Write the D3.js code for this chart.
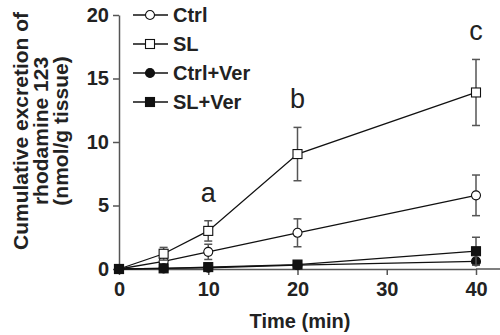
<!DOCTYPE html>
<html>
<head>
<meta charset="utf-8">
<script src="https://cdn.jsdelivr.net/npm/d3@7"></script>
<style>
    body { margin: 0; background: #fff; }
    #chart { width: 500px; height: 335px; }
</style>
</head>
<body>
<div id="chart"></div>
<script>
// Data
const times = [0, 5, 10, 20, 40];
const seriesNames = ["Ctrl", "SL", "Ctrl+Ver", "SL+Ver"];
const ctrlMean = [0, 0.6, 1.35, 2.85, 5.8];
const ctrlErr = [0, 0.3, 0.6, 1.1, 1.6];
const slMean = [0, 1.2, 3.0, 9.05, 13.9];
const slErr = [0, 0.5, 0.8, 2.1, 2.6];
const ctrlVerMean = [0, 0.05, 0.1, 0.3, 0.6];
const ctrlVerErr = [0, 0.05, 0.1, 0.1, 0.2];
const slVerMean = [0, 0.05, 0.15, 0.35, 1.4];
const slVerErr = [0, 0.05, 0.1, 0.15, 1.1];
const xTicks = [0, 10, 20, 30, 40];
const yTicks = [0, 5, 10, 15, 20];
const letters = [
    { t: 10, label: "a", value: 3.8 },
    { t: 20, label: "b", value: 11.2 },
    { t: 40, label: "c", value: 16.5 }
];

function drawChart() {
    const width = 500;
    const height = 335;
    const margin = { top: 15, right: 24, bottom: 66, left: 119 };

    const svg = d3.select("#chart")
        .append("svg")
        .attr("width", width)
        .attr("height", height);

    const x = d3.scaleLinear()
        .domain([0, 40])
        .range([margin.left, width - margin.right]);

    const y = d3.scaleLinear()
        .domain([0, 20])
        .range([height - margin.bottom, margin.top]);

    const series = [
        { name: seriesNames[0], mean: ctrlMean, err: ctrlErr, shape: "circle", fill: "#fff" },
        { name: seriesNames[1], mean: slMean, err: slErr, shape: "square", fill: "#fff" },
        { name: seriesNames[2], mean: ctrlVerMean, err: ctrlVerErr, shape: "circle", fill: "#111" },
        { name: seriesNames[3], mean: slVerMean, err: slVerErr, shape: "square", fill: "#111" }
    ];

    const axisColor = "#555";
    const font = "'Liberation Sans', Arial, sans-serif";

    // X axis
    const xAxis = svg.append("g")
        .attr("transform", `translate(0,${y(0)})`)
        .call(d3.axisBottom(x).tickValues(xTicks).tickSize(6).tickSizeOuter(0).tickPadding(7));
    xAxis.select(".domain").attr("stroke", axisColor).attr("stroke-width", 1.5);
    xAxis.selectAll(".tick line").attr("stroke", axisColor).attr("stroke-width", 1.5);
    xAxis.selectAll("text")
        .style("font-family", font)
        .style("font-weight", "bold")
        .style("font-size", "20px")
        .style("fill", "#222");
    // axis line runs on past the last tick to the edge
    xAxis.append("line")
        .attr("x1", x(40))
        .attr("x2", width)
        .attr("stroke", axisColor)
        .attr("stroke-width", 1.5);

    // Y axis
    const yAxis = svg.append("g")
        .attr("transform", `translate(${x(0)},0)`)
        .call(d3.axisLeft(y).tickValues(yTicks).tickSize(6).tickSizeOuter(0).tickPadding(4));
    yAxis.select(".domain").attr("stroke", axisColor).attr("stroke-width", 1.5);
    yAxis.selectAll(".tick line").attr("stroke", axisColor).attr("stroke-width", 1.5);
    yAxis.selectAll("text")
        .style("font-family", font)
        .style("font-weight", "bold")
        .style("font-size", "20px")
        .style("fill", "#222");

    // Axis titles
    svg.append("text")
        .attr("x", 300)
        .attr("y", 328)
        .attr("text-anchor", "middle")
        .style("font-family", font)
        .style("font-weight", "bold")
        .style("font-size", "20px")
        .style("fill", "#222")
        .text("Time (min)");

    const yTitle = ["Cumulative excretion of", "rhodamine 123", "(nmol/g tissue)"];
    yTitle.forEach((line, i) => {
        svg.append("text")
            .attr("transform", `translate(${28 + i * 20},131) rotate(-90)`)
            .attr("text-anchor", "middle")
            .style("font-family", font)
            .style("font-weight", "bold")
            .style("font-size", "21px")
            .style("fill", "#222")
            .text(line);
    });

    const line = d3.line()
        .x((d, i) => x(times[i]))
        .y(d => y(d));

    function drawMarker(g, shape, fill) {
        if (shape === "circle") {
            g.append("circle").attr("r", 4.5);
        } else {
            g.append("rect").attr("x", -4.5).attr("y", -4.5).attr("width", 9).attr("height", 9);
        }
        g.selectAll("circle, rect")
            .attr("fill", fill)
            .attr("stroke", "#111")
            .attr("stroke-width", 1.1);
    }

    series.forEach(s => {
        const g = svg.append("g");

        // Error bars
        const bars = g.selectAll(".err")
            .data(times.map((t, i) => ({ t: t, m: s.mean[i], e: s.err[i] })).filter(d => d.e > 0))
            .enter()
            .append("g")
            .attr("stroke", "#555")
            .attr("stroke-width", 1.5);
        bars.append("line")
            .attr("x1", d => x(d.t)).attr("x2", d => x(d.t))
            .attr("y1", d => y(d.m + d.e)).attr("y2", d => y(Math.max(0, d.m - d.e)));
        bars.append("line")
            .attr("x1", d => x(d.t) - 4).attr("x2", d => x(d.t) + 4)
            .attr("y1", d => y(d.m + d.e)).attr("y2", d => y(d.m + d.e));
        bars.append("line")
            .attr("x1", d => x(d.t) - 4).attr("x2", d => x(d.t) + 4)
            .attr("y1", d => y(Math.max(0, d.m - d.e))).attr("y2", d => y(Math.max(0, d.m - d.e)));

        // Line
        g.append("path")
            .datum(s.mean)
            .attr("d", line)
            .attr("fill", "none")
            .attr("stroke", "#111")
            .attr("stroke-width", 1.3);

        // Markers
        s.mean.forEach((m, i) => {
            const mg = g.append("g").attr("transform", `translate(${x(times[i])},${y(m)})`);
            drawMarker(mg, s.shape, s.fill);
        });
    });

    // Significance letters
    svg.selectAll(".letter")
        .data(letters)
        .enter()
        .append("text")
        .attr("x", d => x(d.t))
        .attr("y", d => y(d.value) - 19)
        .attr("text-anchor", "middle")
        .style("font-family", font)
        .style("font-size", "27px")
        .style("fill", "#222")
        .text(d => d.label);

    // Legend
    const legend = svg.append("g");
    series.forEach((s, i) => {
        const row = legend.append("g").attr("transform", `translate(133,${15 + i * 29})`);
        row.append("line")
            .attr("x1", 0).attr("x2", 35)
            .attr("stroke", "#111")
            .attr("stroke-width", 1.3);
        const mg = row.append("g").attr("transform", "translate(17,0)");
        drawMarker(mg, s.shape, s.fill);
        row.append("text")
            .attr("x", 40)
            .attr("y", 7)
            .style("font-family", font)
            .style("font-weight", "bold")
            .style("font-size", "20px")
            .style("fill", "#222")
            .text(s.name);
    });
}

drawChart();
</script>
</body>
</html>
